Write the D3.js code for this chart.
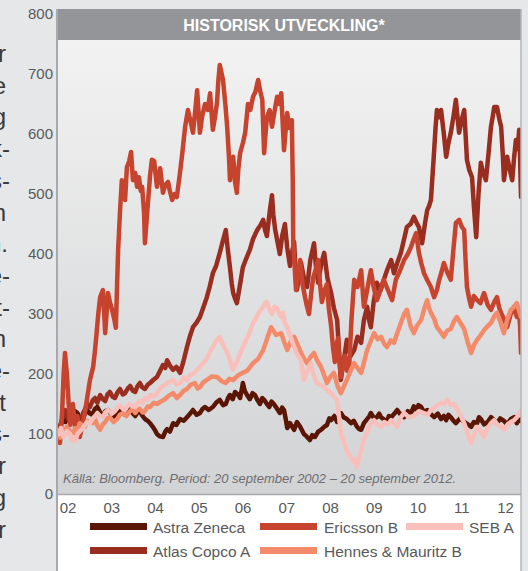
<!DOCTYPE html>
<html><head><meta charset="utf-8">
<script src="https://cdn.jsdelivr.net/npm/d3@7"></script>
<style>
html,body{margin:0;padding:0;background:#e6e7e8;}
svg{display:block;}
text{font-family:"Liberation Sans",Arial,sans-serif;}
</style></head>
<body>
<svg id="chart" width="528" height="571"></svg>
<script>
// ---- DATA (decimal year, index value; 20 Sep 2002 = 100) ----
const title = "HISTORISK UTVECKLING*";
const source = "Källa: Bloomberg. Period: 20 september 2002 – 20 september 2012.";
const yTicks = [0,100,200,300,400,500,600,700,800];
const xLabels = ["02","03","04","05","06","07","08","09","10","11","12"];
const seriesNames = ["Astra Zeneca","Atlas Copco A","Ericsson B","Hennes & Mauritz B","SEB A"];
const seriesColors = ["#5a1505","#992d1f","#c6432e","#f38b6b","#f9c0bb"];
const legendOrder = ["Astra Zeneca","Ericsson B","SEB A","Atlas Copco A","Hennes & Mauritz B"];
const sideText = ["r","e","g","k-","s-","n","n.","e-","t-","n","e-","t","s-","r","g","r"];

const astraZeneca = [[2002.72,100],[2002.76,115],[2002.82,130],[2002.86,120],[2002.89,125],[2002.96,140],[2003.02,128],[2003.07,138],[2003.12,135],[2003.18,124],[2003.24,128],[2003.33,140],[2003.39,134],[2003.44,132],[2003.50,142],[2003.55,145],[2003.61,136],[2003.67,130],[2003.72,138],[2003.78,140],[2003.86,132],[2003.93,128],[2004.04,140],[2004.09,136],[2004.15,132],[2004.20,140],[2004.26,142],[2004.31,135],[2004.37,130],[2004.42,136],[2004.47,138],[2004.53,130],[2004.58,125],[2004.64,122],[2004.69,118],[2004.75,112],[2004.80,106],[2004.84,100],[2004.90,96],[2004.97,95],[2005.02,104],[2005.06,108],[2005.12,104],[2005.19,118],[2005.26,115],[2005.34,125],[2005.42,122],[2005.49,128],[2005.56,134],[2005.62,140],[2005.70,132],[2005.77,135],[2005.83,142],[2005.88,145],[2005.96,140],[2006.05,145],[2006.12,152],[2006.20,157],[2006.27,148],[2006.33,150],[2006.38,160],[2006.42,165],[2006.48,158],[2006.53,170],[2006.59,166],[2006.64,160],[2006.68,176],[2006.70,185],[2006.74,172],[2006.79,165],[2006.85,158],[2006.91,168],[2006.96,165],[2007.02,156],[2007.07,150],[2007.12,160],[2007.16,157],[2007.22,150],[2007.27,145],[2007.32,154],[2007.37,150],[2007.44,142],[2007.50,135],[2007.55,144],[2007.59,140],[2007.63,124],[2007.66,110],[2007.72,118],[2007.81,107],[2007.87,120],[2007.94,112],[2008.02,100],[2008.08,96],[2008.15,90],[2008.20,98],[2008.26,95],[2008.33,104],[2008.39,107],[2008.46,112],[2008.52,115],[2008.57,126],[2008.61,123],[2008.68,130],[2008.74,120],[2008.78,128],[2008.82,135],[2008.88,128],[2008.95,125],[2009.04,118],[2009.10,122],[2009.17,112],[2009.22,108],[2009.26,107],[2009.32,118],[2009.39,125],[2009.44,130],[2009.47,135],[2009.54,126],[2009.60,128],[2009.65,134],[2009.69,128],[2009.76,124],[2009.82,120],[2009.86,130],[2009.91,128],[2009.98,134],[2010.04,140],[2010.12,132],[2010.19,128],[2010.27,138],[2010.34,135],[2010.40,146],[2010.45,140],[2010.50,148],[2010.56,145],[2010.62,136],[2010.69,140],[2010.77,133],[2010.84,128],[2010.92,134],[2010.99,125],[2011.05,130],[2011.10,123],[2011.15,132],[2011.20,128],[2011.26,122],[2011.31,118],[2011.40,126],[2011.49,120],[2011.57,116],[2011.64,112],[2011.70,120],[2011.77,118],[2011.81,128],[2011.85,125],[2011.92,116],[2012.00,120],[2012.07,128],[2012.14,123],[2012.20,118],[2012.27,126],[2012.35,122],[2012.42,116],[2012.50,125],[2012.57,128],[2012.63,118],[2012.68,126],[2012.72,122]];

const atlasCopcoA = [[2002.72,110],[2002.76,118],[2002.79,125],[2002.85,140],[2002.89,130],[2002.92,125],[2002.96,135],[2003.02,120],[2003.06,128],[2003.10,130],[2003.14,122],[2003.17,115],[2003.21,126],[2003.24,135],[2003.29,142],[2003.33,150],[2003.39,145],[2003.45,156],[2003.50,160],[2003.55,152],[2003.61,165],[2003.67,158],[2003.72,155],[2003.77,166],[2003.82,170],[2003.88,162],[2003.93,160],[2003.99,170],[2004.04,175],[2004.10,166],[2004.15,168],[2004.21,176],[2004.26,180],[2004.32,172],[2004.37,170],[2004.42,180],[2004.47,185],[2004.52,178],[2004.58,175],[2004.64,182],[2004.69,185],[2004.76,190],[2004.84,195],[2004.90,204],[2004.97,215],[2005.02,210],[2005.06,223],[2005.12,214],[2005.19,207],[2005.26,212],[2005.34,202],[2005.41,220],[2005.49,245],[2005.55,262],[2005.62,278],[2005.70,286],[2005.77,295],[2005.84,310],[2005.92,328],[2005.98,345],[2006.05,368],[2006.12,380],[2006.20,402],[2006.26,420],[2006.33,440],[2006.37,410],[2006.42,378],[2006.46,350],[2006.49,335],[2006.53,326],[2006.57,318],[2006.63,345],[2006.70,378],[2006.77,392],[2006.85,407],[2006.92,425],[2007.01,440],[2007.08,448],[2007.14,457],[2007.18,440],[2007.22,430],[2007.28,470],[2007.33,498],[2007.36,465],[2007.40,440],[2007.45,420],[2007.50,400],[2007.55,430],[2007.61,450],[2007.66,410],[2007.72,380],[2007.77,405],[2007.81,420],[2007.84,370],[2007.87,340],[2007.92,365],[2007.96,385],[2008.02,360],[2008.09,345],[2008.16,390],[2008.24,418],[2008.28,380],[2008.33,352],[2008.40,385],[2008.46,402],[2008.53,360],[2008.61,335],[2008.67,310],[2008.74,290],[2008.78,240],[2008.82,190],[2008.88,220],[2008.95,257],[2009.03,230],[2009.11,240],[2009.18,262],[2009.26,252],[2009.32,290],[2009.39,312],[2009.43,290],[2009.47,278],[2009.53,320],[2009.60,352],[2009.68,340],[2009.75,357],[2009.83,375],[2009.91,390],[2009.97,368],[2010.04,385],[2010.12,402],[2010.19,425],[2010.25,445],[2010.33,450],[2010.40,462],[2010.46,452],[2010.51,445],[2010.58,418],[2010.64,450],[2010.69,473],[2010.73,480],[2010.77,490],[2010.83,560],[2010.87,610],[2010.90,640],[2010.95,628],[2010.99,640],[2011.05,600],[2011.10,562],[2011.15,585],[2011.20,602],[2011.26,630],[2011.31,657],[2011.35,625],[2011.38,602],[2011.44,625],[2011.49,640],[2011.52,600],[2011.55,557],[2011.60,540],[2011.66,528],[2011.70,480],[2011.75,428],[2011.80,500],[2011.85,552],[2011.90,535],[2011.96,523],[2012.02,570],[2012.07,612],[2012.11,630],[2012.14,645],[2012.20,645],[2012.25,625],[2012.29,612],[2012.33,560],[2012.35,523],[2012.42,562],[2012.48,540],[2012.53,523],[2012.57,560],[2012.61,590],[2012.65,575],[2012.68,607],[2012.70,560],[2012.72,495]];

const ericssonB = [[2002.72,100],[2002.74,85],[2002.79,140],[2002.82,200],[2002.85,235],[2002.89,200],[2002.93,150],[2002.96,115],[2003.02,150],[2003.07,110],[2003.12,130],[2003.17,95],[2003.24,120],[2003.29,140],[2003.33,160],[2003.39,190],[2003.46,212],[2003.50,240],[2003.53,265],[2003.57,300],[2003.61,328],[2003.67,340],[2003.72,268],[2003.78,335],[2003.82,320],[2003.87,307],[2003.92,290],[2003.95,277],[2004.00,407],[2004.04,470],[2004.08,523],[2004.12,505],[2004.15,490],[2004.19,545],[2004.24,555],[2004.28,570],[2004.32,523],[2004.37,535],[2004.41,512],[2004.45,528],[2004.49,505],[2004.52,512],[2004.56,470],[2004.58,418],[2004.62,460],[2004.65,490],[2004.69,530],[2004.73,557],[2004.78,555],[2004.84,512],[2004.88,530],[2004.91,543],[2004.97,502],[2005.02,515],[2005.08,520],[2005.12,505],[2005.17,490],[2005.22,500],[2005.27,495],[2005.33,530],[2005.38,562],[2005.45,612],[2005.51,640],[2005.57,620],[2005.62,602],[2005.67,640],[2005.71,673],[2005.77,602],[2005.82,630],[2005.88,650],[2005.94,640],[2005.99,668],[2006.05,607],[2006.10,630],[2006.14,652],[2006.17,690],[2006.20,715],[2006.27,690],[2006.32,650],[2006.36,612],[2006.40,560],[2006.42,523],[2006.45,545],[2006.49,562],[2006.53,520],[2006.57,502],[2006.60,540],[2006.64,568],[2006.70,585],[2006.75,602],[2006.81,650],[2006.86,640],[2006.92,662],[2006.97,670],[2007.03,690],[2007.08,670],[2007.12,657],[2007.16,568],[2007.19,600],[2007.22,628],[2007.28,640],[2007.33,612],[2007.39,640],[2007.44,662],[2007.49,650],[2007.53,668],[2007.59,573],[2007.63,610],[2007.66,635],[2007.71,610],[2007.76,623],[2007.78,520],[2007.79,420],[2007.82,380],[2007.85,340],[2007.90,370],[2007.94,390],[2007.99,350],[2008.04,330],[2008.08,315],[2008.13,300],[2008.18,335],[2008.22,360],[2008.28,375],[2008.33,390],[2008.37,350],[2008.41,320],[2008.47,340],[2008.52,350],[2008.56,310],[2008.61,280],[2008.65,245],[2008.69,220],[2008.72,245],[2008.76,260],[2008.79,225],[2008.82,195],[2008.87,215],[2008.91,230],[2008.96,205],[2009.00,210],[2009.05,290],[2009.11,357],[2009.18,345],[2009.26,373],[2009.32,312],[2009.39,340],[2009.47,373],[2009.53,345],[2009.60,323],[2009.68,340],[2009.75,357],[2009.84,340],[2009.93,323],[2010.01,357],[2010.10,372],[2010.19,390],[2010.27,400],[2010.34,412],[2010.40,425],[2010.45,435],[2010.51,402],[2010.56,385],[2010.62,368],[2010.70,355],[2010.77,345],[2010.84,328],[2010.90,340],[2010.95,357],[2011.00,370],[2011.05,385],[2011.12,370],[2011.20,357],[2011.26,410],[2011.31,452],[2011.38,457],[2011.44,445],[2011.49,440],[2011.52,390],[2011.55,345],[2011.60,325],[2011.64,312],[2011.70,330],[2011.77,323],[2011.84,318],[2011.92,335],[2012.00,315],[2012.07,307],[2012.14,320],[2012.20,328],[2012.25,310],[2012.29,302],[2012.36,290],[2012.42,278],[2012.50,300],[2012.57,312],[2012.63,295],[2012.68,300],[2012.70,280],[2012.72,235]];

const hennesMauritzB = [[2002.72,100],[2002.75,94],[2002.79,108],[2002.84,104],[2002.89,112],[2002.96,105],[2003.02,100],[2003.07,110],[2003.12,106],[2003.17,118],[2003.22,114],[2003.28,112],[2003.33,122],[2003.39,120],[2003.45,118],[2003.50,125],[2003.55,114],[2003.61,107],[2003.67,116],[2003.72,120],[2003.77,126],[2003.82,128],[2003.90,120],[2003.98,125],[2004.04,132],[2004.11,135],[2004.18,130],[2004.26,138],[2004.31,142],[2004.37,135],[2004.42,140],[2004.47,142],[2004.53,136],[2004.58,138],[2004.64,146],[2004.69,145],[2004.77,152],[2004.84,150],[2004.92,154],[2005.01,158],[2005.10,164],[2005.19,168],[2005.27,160],[2005.34,165],[2005.42,172],[2005.49,175],[2005.57,182],[2005.66,185],[2005.72,176],[2005.77,178],[2005.84,186],[2005.92,190],[2006.03,196],[2006.14,195],[2006.24,188],[2006.33,185],[2006.41,192],[2006.49,190],[2006.60,198],[2006.70,202],[2006.80,206],[2006.92,218],[2007.03,225],[2007.14,240],[2007.22,258],[2007.31,278],[2007.42,265],[2007.53,268],[2007.60,252],[2007.66,240],[2007.74,255],[2007.81,262],[2007.89,248],[2007.96,235],[2008.02,226],[2008.09,218],[2008.16,228],[2008.24,235],[2008.31,222],[2008.39,212],[2008.46,198],[2008.52,185],[2008.60,196],[2008.67,202],[2008.75,180],[2008.82,168],[2008.89,180],[2008.95,190],[2009.03,205],[2009.11,218],[2009.18,210],[2009.26,202],[2009.33,222],[2009.39,240],[2009.47,255],[2009.54,268],[2009.62,258],[2009.69,262],[2009.76,250],[2009.82,245],[2009.90,256],[2009.97,252],[2010.05,270],[2010.12,285],[2010.19,300],[2010.25,307],[2010.33,280],[2010.40,268],[2010.48,282],[2010.56,290],[2010.63,310],[2010.69,323],[2010.73,310],[2010.77,302],[2010.84,292],[2010.90,278],[2010.98,270],[2011.05,262],[2011.12,272],[2011.20,275],[2011.27,288],[2011.33,295],[2011.41,285],[2011.49,275],[2011.57,252],[2011.64,235],[2011.70,248],[2011.77,257],[2011.85,265],[2011.92,273],[2012.00,280],[2012.07,285],[2012.14,296],[2012.20,302],[2012.28,285],[2012.35,268],[2012.42,290],[2012.50,307],[2012.57,312],[2012.63,318],[2012.68,305],[2012.72,295]];

const sebA = [[2002.72,100],[2002.76,110],[2002.79,100],[2002.82,95],[2002.89,105],[2002.96,100],[2002.99,90],[2003.02,95],[2003.07,88],[2003.12,100],[2003.18,105],[2003.24,110],[2003.29,116],[2003.33,120],[2003.39,118],[2003.44,125],[2003.50,130],[2003.55,135],[2003.61,130],[2003.67,128],[2003.72,136],[2003.78,140],[2003.86,134],[2003.93,138],[2003.99,144],[2004.04,148],[2004.10,142],[2004.15,140],[2004.20,146],[2004.26,150],[2004.31,146],[2004.37,145],[2004.42,152],[2004.47,155],[2004.53,152],[2004.58,160],[2004.64,158],[2004.69,165],[2004.77,162],[2004.84,168],[2004.90,175],[2004.97,180],[2005.08,186],[2005.19,190],[2005.26,182],[2005.34,185],[2005.42,194],[2005.49,190],[2005.55,198],[2005.62,200],[2005.70,206],[2005.77,212],[2005.84,218],[2005.92,225],[2005.98,236],[2006.05,245],[2006.12,255],[2006.20,262],[2006.26,250],[2006.33,240],[2006.38,232],[2006.42,223],[2006.46,214],[2006.49,207],[2006.53,215],[2006.57,220],[2006.63,232],[2006.70,245],[2006.76,255],[2006.81,262],[2006.87,275],[2006.92,285],[2006.98,292],[2007.03,300],[2007.08,306],[2007.14,312],[2007.18,318],[2007.22,320],[2007.27,308],[2007.33,300],[2007.38,312],[2007.44,310],[2007.49,300],[2007.53,295],[2007.57,302],[2007.61,285],[2007.66,278],[2007.73,262],[2007.81,245],[2007.88,232],[2007.96,223],[2007.99,205],[2008.02,190],[2008.09,205],[2008.17,218],[2008.23,200],[2008.30,185],[2008.38,182],[2008.46,178],[2008.53,172],[2008.61,168],[2008.67,162],[2008.74,157],[2008.78,130],[2008.82,102],[2008.88,88],[2008.95,73],[2009.03,62],[2009.11,52],[2009.14,58],[2009.17,45],[2009.24,70],[2009.32,90],[2009.40,105],[2009.47,118],[2009.54,123],[2009.61,116],[2009.69,112],[2009.76,120],[2009.84,116],[2009.91,123],[2009.97,118],[2010.04,112],[2010.12,128],[2010.19,135],[2010.29,128],[2010.40,130],[2010.51,138],[2010.62,135],[2010.70,132],[2010.77,140],[2010.88,146],[2010.99,152],[2011.05,150],[2011.12,157],[2011.20,148],[2011.27,150],[2011.35,140],[2011.42,130],[2011.49,118],[2011.56,102],[2011.64,85],[2011.70,98],[2011.77,112],[2011.84,105],[2011.92,95],[2012.00,110],[2012.07,118],[2012.14,123],[2012.22,115],[2012.29,112],[2012.35,107],[2012.43,116],[2012.50,120],[2012.57,123],[2012.63,128],[2012.68,132],[2012.72,140]];

const seriesData = [astraZeneca, atlasCopcoA, ericssonB, hennesMauritzB, sebA];

// ---- LAYOUT ----
const svg = d3.select("#chart");
const pL = 57, pR = 521, pT = 9, titleH = 31, pB = 494.5;
const x = d3.scaleLinear().domain([2002.72, 2012.72]).range([59, 521]);
const y = d3.scaleLinear().domain([0, 800]).range([494, 14]);
const xl = d3.scalePoint().domain(xLabels).range([67.5, 505]);

const defs = svg.append("defs");
const grad = defs.append("linearGradient").attr("id","bg").attr("x1",0).attr("y1",0).attr("x2",0).attr("y2",1);
grad.append("stop").attr("offset","0%").attr("stop-color","#f2f2f2");
grad.append("stop").attr("offset","100%").attr("stop-color","#d2d3d5");
defs.append("clipPath").attr("id","clip").append("rect")
  .attr("x",pL+1).attr("y",pT+titleH).attr("width",pR-pL-1).attr("height",pB-pT-titleH);

// side text fragments (body text of the page, cut by the crop)
svg.append("g").selectAll("text").data(sideText).join("text")
  .attr("x", d => d.endsWith("-") ? 10 : (d.endsWith(".") ? 8 : 6))
  .attr("y", (d,i) => 62 + i*31.7)
  .attr("text-anchor","end")
  .attr("font-size",24).attr("fill","#3a3a3a").text(d => d);

// legend area (white)
svg.append("rect").attr("x",pL).attr("y",pB).attr("width",pR-pL).attr("height",571-pB).attr("fill","#ffffff");
// plot bg
svg.append("rect").attr("x",pL).attr("y",pT+titleH).attr("width",pR-pL).attr("height",pB-pT-titleH).attr("fill","url(#bg)");
// title bar
svg.append("rect").attr("x",pL).attr("y",pT).attr("width",pR-pL).attr("height",titleH).attr("fill","#939598");
svg.append("text").attr("x",284).attr("y",pT+22).attr("text-anchor","middle")
  .attr("font-size",16).attr("fill","#ffffff").attr("font-weight","bold").text(title);

// lines
const line = d3.line().x(d => x(d[0])).y(d => y(d[1])).curve(d3.curveLinear);
svg.append("g").attr("clip-path","url(#clip)").selectAll("path").data(seriesData).join("path")
  .attr("d", line).attr("fill","none")
  .attr("stroke",(d,i) => seriesColors[i]).attr("stroke-width",4.5)
  .attr("stroke-linejoin","round").attr("stroke-linecap","round");

// source text
svg.append("text").attr("x",63).attr("y",483).attr("font-size",13).attr("font-style","italic")
  .attr("fill","#6d6e71").text(source);

// borders
svg.append("line").attr("x1",pL).attr("x2",pL).attr("y1",pT).attr("y2",571).attr("stroke","#a7a9ac").attr("stroke-width",2);
svg.append("line").attr("x1",pR).attr("x2",pR).attr("y1",pT).attr("y2",571).attr("stroke","#b4b6b8").attr("stroke-width",1.5);
svg.append("line").attr("x1",pL).attr("x2",pR).attr("y1",pB).attr("y2",pB).attr("stroke","#a7a9ac").attr("stroke-width",1.5);

// y axis
const yAxis = svg.append("g").attr("transform","translate(53,0)")
  .call(d3.axisLeft(y).tickValues(yTicks).tickSize(0).tickPadding(0));
yAxis.select(".domain").remove();
yAxis.selectAll("text").attr("font-size",15).attr("fill","#58595b").attr("font-family","Liberation Sans, Arial, sans-serif");

// x axis labels
const xAxis = svg.append("g").attr("transform","translate(0,502)")
  .call(d3.axisBottom(xl).tickSize(0).tickPadding(0));
xAxis.select(".domain").remove();
xAxis.selectAll("text").attr("font-size",15).attr("fill","#58595b").attr("font-family","Liberation Sans, Arial, sans-serif").attr("dy","0.71em").attr("y",0);

// legend
const legX = [90, 260, 406], legY = [523, 547], textX = [153, 324, 469];
const leg = svg.append("g").selectAll("g").data(legendOrder).join("g");
leg.append("rect")
  .attr("x",(d,i) => legX[i%3]).attr("y",(d,i) => legY[Math.floor(i/3)])
  .attr("width",57).attr("height",7)
  .attr("fill", d => seriesColors[seriesNames.indexOf(d)]);
leg.append("text")
  .attr("x",(d,i) => textX[i%3]).attr("y",(d,i) => legY[Math.floor(i/3)] + 10)
  .attr("font-size",15.5).attr("fill","#58595b").text(d => d);
</script>
</body></html>
